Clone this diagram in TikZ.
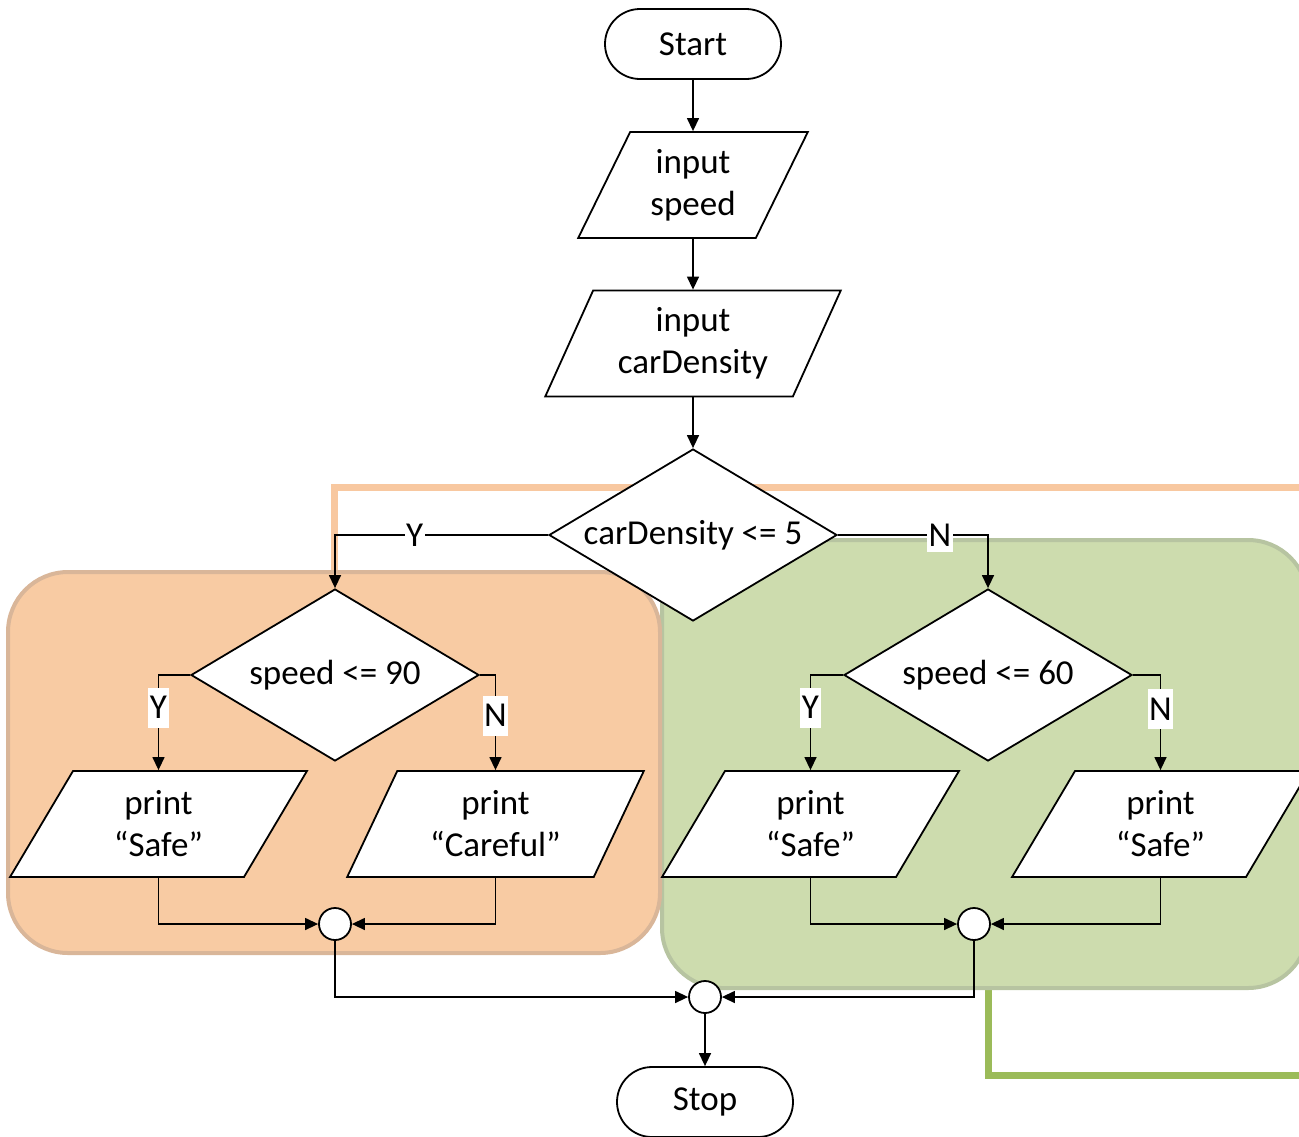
\documentclass[tikz,border=0pt]{standalone}
\usepackage{fontspec}
\setmainfont{Carlito}
\usetikzlibrary{shapes.geometric,arrows.meta}
\definecolor{orfill}{HTML}{F8CBA3}
\definecolor{orline}{HTML}{D9B699}
\definecolor{grfill}{HTML}{CDDCAE}
\definecolor{grline}{HTML}{B7C4A1}
\definecolor{grbar}{HTML}{9BBB59}
\definecolor{orbar}{HTML}{F8C8A0}

\begin{document}
\begin{tikzpicture}[x=1pt,y=-1pt,
  font=\fontsize{35}{42}\selectfont,
  base/.style={draw, line width=1.8pt, fill=white, align=center, inner sep=2pt},
  term/.style={base, rectangle, rounded corners=35pt, minimum width=176pt, minimum height=70pt},
  io/.style={base, trapezium, trapezium left angle=64, trapezium right angle=116,
    trapezium stretches=true, minimum width=#1, minimum height=106pt},
  io/.default=297pt,
  decision/.style={base, diamond, aspect=1.67, minimum width=288pt, minimum height=172pt, inner sep=0pt},
  merge/.style={base, circle, minimum size=32pt, inner sep=0pt},
  conn/.style={line width=1.4pt, -{Triangle[length=13pt,width=12pt]}},
  lab/.style={fill=white, inner xsep=1.5pt, inner ysep=0pt, minimum height=40pt},
  groupbox/.style={line width=4pt, rounded corners=60pt},
  bar/.style={line width=7pt}
]
\useasboundingbox (0,0) rectangle (1299,1136);
\clip (0,0) rectangle (1299,1136);

% grouping frames and their leads
\draw[bar, orbar] (334,572) -- (334,487) -- (1320,487);
\draw[bar, grbar] (988,988) -- (988,1075) -- (1320,1075);
\draw[groupbox, draw=grline, fill=grfill] (662,540) rectangle (1308,988);
\draw[groupbox, draw=orline, fill=orfill] (8,572) rectangle (660,953);

% flowchart nodes
\node[term] (start) at (693,44) {Start};
\node[io=230pt] (in1) at (693,185) {input\\speed};
\node[io=296pt] (in2) at (693,343.5) {input\\carDensity};
\node[decision] (d1) at (693,535) {\raisebox{-2pt}{carDensity <= 5}};
\node[decision] (d2) at (335,675) {\raisebox{-2pt}{speed <= 90}};
\node[decision] (d3) at (988,675) {\raisebox{-2pt}{speed <= 60}};
\node[io] (p1) at (158.5,824) {print\\“Safe”};
\node[io] (p2) at (495.5,824) {print\\“Careful”};
\node[io] (p3) at (810.5,824) {print\\“Safe”};
\node[io] (p4) at (1160.5,824) {print\\“Safe”};
\node[merge] (m1) at (335,924) {};
\node[merge] (m2) at (974,924) {};
\node[merge] (m3) at (705,997) {};
\node[term] (stop) at (705,1102) {Stop};

% connectors
\draw[conn] (start) -- (in1 |- in1.north);
\draw[conn] (in1 |- in1.south) -- (in2 |- in2.north);
\draw[conn] (in2 |- in2.south) -- (d1.north);
\draw[conn] (d1.west) -| node[lab, pos=0.313] {Y} (d2.north);
\draw[conn] (d1.east) -| node[lab, pos=0.34, minimum height=33pt] {N} (d3.north);
\draw[conn] (d2.west) -| node[lab, pos=0.672] {Y} (p1 |- p1.north);
\draw[conn] (d2.east) -| node[lab, pos=0.713] {N} (p2 |- p2.north);
\draw[conn] (d3.west) -| node[lab, pos=0.672] {Y} (p3 |- p3.north);
\draw[conn] (d3.east) -| node[lab, pos=0.68] {N} (p4 |- p4.north);
\draw[conn] (p1 |- p1.south) |- (m1.west);
\draw[conn] (p2 |- p2.south) |- (m1.east);
\draw[conn] (p3 |- p3.south) |- (m2.west);
\draw[conn] (p4 |- p4.south) |- (m2.east);
\draw[conn] (m1.south) |- (m3.west);
\draw[conn] (m2.south) |- (m3.east);
\draw[conn] (m3.south) -- (stop.north);
\end{tikzpicture}
\end{document}
